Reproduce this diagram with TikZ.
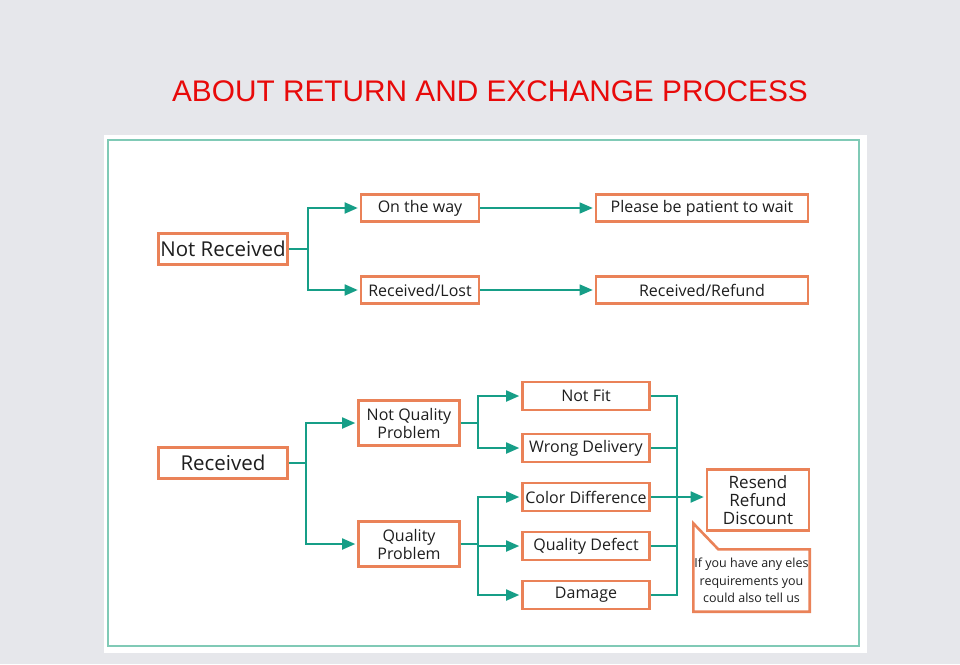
\documentclass[tikz,border=0pt]{standalone}
\usepackage{fontspec}
\setmainfont{Open Sans}
\newfontfamily\titlefont{Liberation Sans}
\usetikzlibrary{arrows.meta,positioning,calc}
\definecolor{retOrange}{RGB}{234,130,88}
\definecolor{retTeal}{RGB}{22,158,135}
\definecolor{retFrame}{RGB}{128,202,182}
\definecolor{retRed}{RGB}{232,10,10}
\definecolor{retGray}{RGB}{230,231,235}
\definecolor{retInk}{RGB}{30,30,30}

\begin{document}
\begin{tikzpicture}[
  x=1pt, y=-1pt,
  stepbox/.style={draw=retOrange, line width=2.6pt, fill=white, text=retInk,
                  inner sep=1pt, align=center, font=\fontsize{16}{18}\selectfont},
  bigbox/.style={stepbox, minimum width=129pt, minimum height=31pt,
                 font=\fontsize{20.5}{22}\selectfont},
  midbox/.style={stepbox, minimum width=127pt, minimum height=28pt},
  arr/.style={-{Triangle[length=13pt,width=11pt]}, retTeal, line width=1.8pt,
              shorten >=2pt},
  thinarr/.style={arr, line width=1.2pt},
  link/.style={retTeal, line width=1.8pt},
  notelabel/.style={font=\fontsize{12.5}{17.5}\selectfont, text=retInk, align=center,
                    minimum width=116pt, minimum height=62pt, inner sep=0pt},
]

% ─── page, panel and frame ─────────────────────────────────────
\fill[retGray] (0,0) rectangle (960,664);
\useasboundingbox (0,0) rectangle (960,664);
\fill[white] (104,135) rectangle (867,653);
\draw[retFrame, line width=2pt] (108,140) rectangle (859,646);

\node[font=\titlefont\fontsize{29.8}{36}\selectfont, text=retRed] (title) at (490,91)
    {ABOUT RETURN AND EXCHANGE PROCESS};

% ─── Not received ──────────────────────────────────────────────
\node[bigbox] (nr) at (223,249) {Not Received};
\node[stepbox, minimum width=118pt, minimum height=27pt] (otw) at (420,208) {On the way};
\node[stepbox, minimum width=118pt, minimum height=27pt] (rl) at (420,290) {Received/Lost};
\node[stepbox, minimum width=212pt, minimum height=27pt] (pw) at (702,208) {Please be patient to wait};
\node[stepbox, minimum width=212pt, minimum height=27pt] (rr) at (702,290) {Received/Refund};

\draw[arr] (nr.east) -- ++(19,0) |- (otw.west);
\draw[arr] (nr.east) -- ++(19,0) |- (rl.west);
\draw[thinarr] (otw) -- (pw);
\draw[thinarr] (rl) -- (rr);

% ─── Received ──────────────────────────────────────────────────
\node[bigbox] (rc) at (223,463) {Received};
\node[stepbox, minimum width=101pt, minimum height=45pt] (nqp) at (409,423) {Not Quality\\Problem};
\node[stepbox, minimum width=101pt, minimum height=45pt] (qp) at (409,544) {Quality\\Problem};

% problem kinds
\foreach \nm/\y/\txt in {nf/396/Not Fit, wd/448/Wrong Delivery, cd/497/Color Difference,
                         qd/546/Quality Defect, dm/595/Damage}{
  \node[midbox] (\nm) at (586,\y) {\txt};
}

\node[stepbox, minimum width=102pt, minimum height=61pt, font=\fontsize{17}{18}\selectfont]
    (rs) at (758,500) {Resend\\Refund\\Discount};

% note with pointer
\node[notelabel] (note) at (751.5,580.5)
    {If you have any eles\\requirements you\\could also tell us};
\draw[retOrange, line width=2.6pt, line join=miter] (note.south west)
    -- ([yshift=26pt]note.north west) -- ([xshift=25pt]note.north west)
    -- (note.north east) -- (note.south east) -- cycle;

\draw[arr] (rc.east) -- ++(17,0) |- (nqp.west);
\draw[arr] (rc.east) -- ++(17,0) |- (qp.west);
\foreach \to in {nf, wd}{
  \draw[arr] (nqp.east) -- ++(17,0) |- (\to.west);
}
\foreach \to in {cd, qd, dm}{
  \draw[arr] (qp.east) -- ++(17,0) |- (\to.west);
}

% merge line on the right
\coordinate (mrg) at (677,396);
\draw[link] (nf.east) -| (mrg |- dm.east) -- (dm.east);
\foreach \nm in {wd, cd, qd}{
  \draw[link] (\nm.east) -- (mrg |- \nm.east);
}
\draw[arr] (mrg |- cd.east) -- (rs.west |- cd.east);

\end{tikzpicture}
\end{document}
